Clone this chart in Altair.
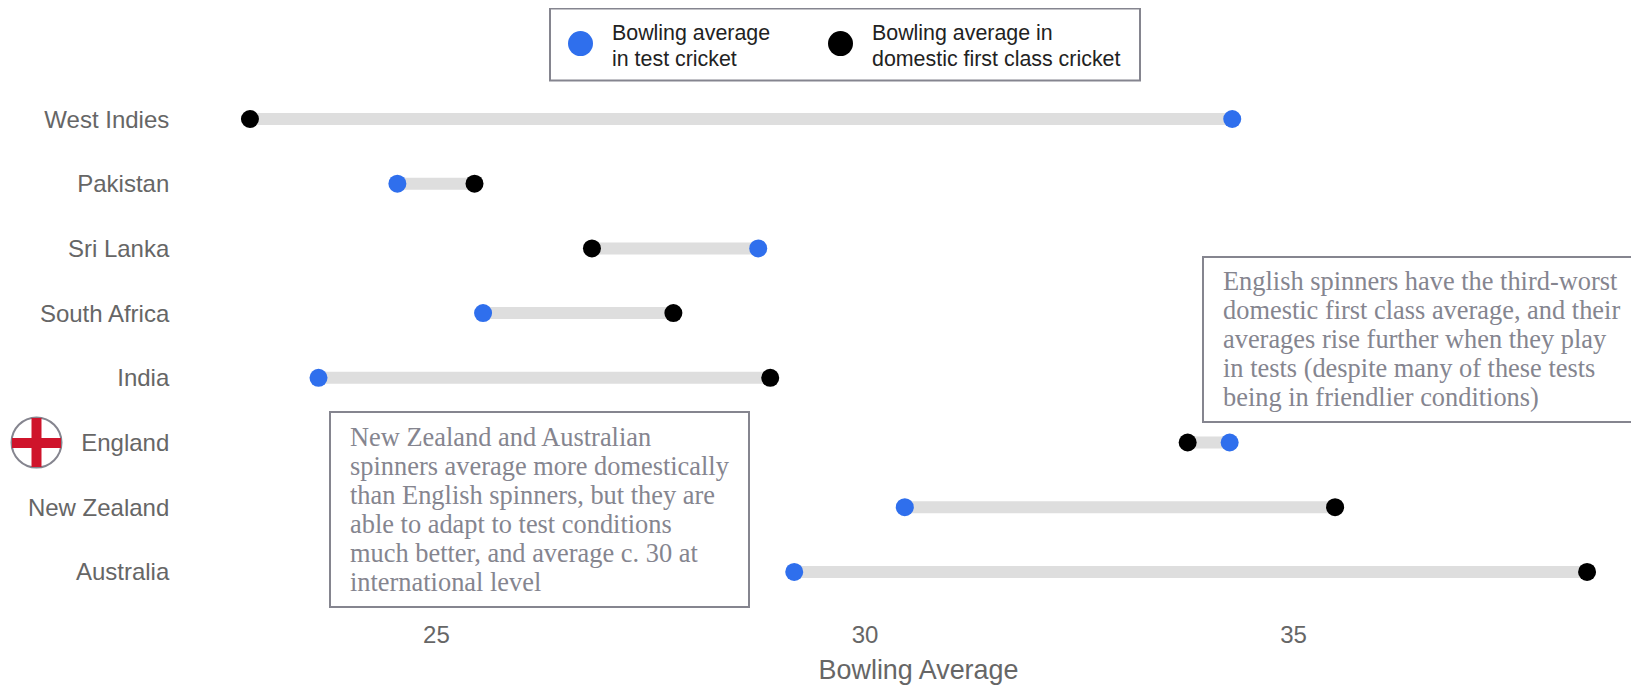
import altair as alt
import pandas as pd

teams = ["West Indies", "Pakistan", "Sri Lanka", "South Africa", "India", "England", "New Zealand", "Australia"]
test_avg = [34.29, 24.55, 28.76, 25.55, 23.63, 34.26, 30.47, 29.18]
domestic_avg = [22.83, 25.45, 26.82, 27.77, 28.90, 33.77, 35.49, 38.43]
x_ticks = [25, 30, 35]
series_names = ["Bowling average|in test cricket", "Bowling average in|domestic first class cricket"]
series_colors = ["#2f6fed", "#000000"]
note_left = "New Zealand and Australian\nspinners average more domestically\nthan English spinners, but they are\nable to adapt to test conditions\nmuch better, and average c. 30 at\ninternational level"
note_right = "English spinners have the third-worst\ndomestic first class average, and their\naverages rise further when they play\nin tests (despite many of these tests\nbeing in friendlier conditions)"

X0, Y0 = 178.8, 86.65
W, H = 1440, 517.6
GREY = "#666666"
NOTE = "#85858f"
SERIF = "Liberation Serif"
SANS = "Liberation Sans"

wide = pd.DataFrame({"team": teams, "test": test_avg, "domestic": domestic_avg})
long = pd.concat([
    pd.DataFrame({"team": teams, "avg": test_avg, "series": series_names[0]}),
    pd.DataFrame({"team": teams, "avg": domestic_avg, "series": series_names[1]}),
])

xs = alt.Scale(domain=[22, 38.8], nice=False, zero=False)
ys = alt.Scale(domain=teams, paddingInner=0, paddingOuter=0)

rules = alt.Chart(wide).mark_rule(size=12, color="#dedede").encode(
    x=alt.X("test:Q", scale=xs, axis=alt.Axis(
        values=x_ticks, format="d", title="Bowling Average", grid=False, domain=False, ticks=False,
        labelFontSize=24, labelColor=GREY, labelFont=SANS, labelPadding=19,
        titleFontSize=26.9, titleColor=GREY, titleFont=SANS, titleFontWeight="normal",
        titleX=918 - X0, titleY=74.5, titleBaseline="alphabetic")),
    x2="domestic:Q",
    y=alt.Y("team:N", scale=ys, sort=teams, axis=alt.Axis(
        title=None, grid=False, domain=False, ticks=False, labelFontSize=24,
        labelColor=GREY, labelFont=SANS, labelPadding=10, labelOffset=1.5)),
)

points = alt.Chart(long).mark_circle(size=324, opacity=1).encode(
    x=alt.X("avg:Q", scale=xs),
    y=alt.Y("team:N", scale=ys, sort=teams),
    color=alt.Color("series:N", scale=alt.Scale(domain=series_names, range=series_colors),
        legend=alt.Legend(
            title=None, orient="none", direction="horizontal", columns=2,
            legendX=568 - X0, legendY=31 - Y0, labelBaseline="bottom",
            labelExpr="split(datum.label, '|')", labelFontSize=21.4, labelColor="#222222",
            labelFont=SANS, labelLimit=400, symbolSize=625, symbolStrokeWidth=0,
            symbolType="circle", padding=0, columnPadding=57, labelOffset=19)),
)


def box(text, x1, x2, y1, y2, tx, ty):
    frame = pd.DataFrame({"note": [text]})
    rect = alt.Chart(frame).mark_rect(fill="#ffffff", stroke=NOTE, strokeWidth=2).encode(
        x=alt.value(x1 - X0), x2=alt.value(x2 - X0), y=alt.value(y1 - Y0), y2=alt.value(y2 - Y0))
    label = alt.Chart(frame).mark_text(
        align="left", baseline="alphabetic", lineBreak="\n", lineHeight=29, fontSize=26.4,
        font=SERIF, color=NOTE).encode(
        x=alt.value(tx - X0), y=alt.value(ty - Y0), text="note:N")
    return rect + label


legend_frame = pd.DataFrame({"box": ["legend"]})
legend_box = alt.Chart(legend_frame).mark_rect(fill="#ffffff", stroke=NOTE, strokeWidth=2).encode(
    x=alt.value(550 - X0), x2=alt.value(1140 - X0), y=alt.value(8.4 - Y0), y2=alt.value(80.5 - Y0))

flag_frame = pd.DataFrame({"flag": ["England"]})
flag_disc = alt.Chart(flag_frame).mark_circle(size=2500, fill="#ffffff", stroke=NOTE, strokeWidth=2, opacity=1).encode(
    x=alt.value(36.5 - X0), y=alt.value(442.5 - Y0))
flag_h = alt.Chart(flag_frame).mark_rule(size=10, color="#cf142b").encode(
    x=alt.value(12 - X0), x2=alt.value(61 - X0), y=alt.value(443 - Y0))
flag_v = alt.Chart(flag_frame).mark_rule(size=10, color="#cf142b").encode(
    x=alt.value(36.5 - X0), y=alt.value(418 - Y0), y2=alt.value(467 - Y0))

chart = alt.layer(
    legend_box, rules, points,
    box(note_left, 330, 749, 412, 607, 350, 445.7),
    box(note_right, 1203, 1660, 257, 422, 1223, 290),
    flag_disc, flag_h, flag_v,
).properties(
    width=W, height=H,
    autosize=alt.AutoSizeParams(type="none"),
    padding={"left": X0 - 8, "top": Y0 - 8, "right": 1639 - 8 - X0 - W, "bottom": 686 - Y0 - H},
).configure(style={"guide-label": {"lineHeight": 26}}).configure_view(stroke=None)

chart.save("out.html", embed_options={"renderer": "svg", "actions": False})
